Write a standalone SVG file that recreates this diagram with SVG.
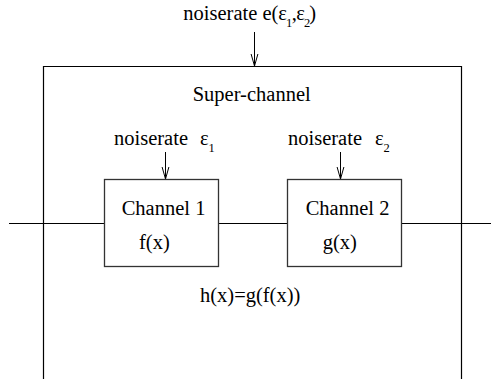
<svg xmlns="http://www.w3.org/2000/svg" width="491" height="379" viewBox="0 0 491 379">
<style>
text{font-family:"Liberation Serif","Times New Roman",serif;font-size:20.5px;fill:#000}
.sub{font-size:12.5px}
.ln{stroke:#000;stroke-width:1.2;fill:none}
.box{stroke:#333;stroke-width:1.3;fill:#fff}
.arr{stroke:#000;stroke-width:1;fill:none;marker-end:url(#ah)}
</style>
<defs>
<marker id="ah" markerUnits="userSpaceOnUse" markerWidth="14" markerHeight="10" refX="12" refY="4" orient="auto" viewBox="0 0 14 8">
<path d="M0,0.6 L12,4 L0,7.4" fill="none" stroke="#000" stroke-width="1"/>
</marker>
</defs>
<g id="connectors">
<path class="ln" d="M9,223.5 H104.5 M218.5,223.5 H287.5 M401.5,223.5 H491"/>
<path class="arr" d="M254.5,32 V66"/>
<path class="arr" d="M165.5,152 V179"/>
<path class="arr" d="M340.5,152 V179"/>
</g>
<g id="super-channel">
<path class="ln" d="M43.5,379 V66.5 H461.5 V379"/>
<text x="192.7" y="101">Super-channel</text>
<text x="200" y="302">h(x)=g(f(x))</text>
</g>
<g id="noise-top">
<text x="183.3" y="20">noiserate e(ε<tspan class="sub" dx="-1" dy="7">1</tspan><tspan dx="-0.5" dy="-7">,</tspan><tspan dx="-0.5">ε</tspan><tspan class="sub" dx="-1" dy="7">2</tspan><tspan dx="-1" dy="-7">)</tspan></text>
</g>
<g id="channel1">
<rect class="box" x="104.5" y="179.5" width="114" height="87"/>
<text x="121.7" y="215">Channel 1</text>
<text x="139" y="249">f(x)</text>
<text x="114" y="145">noiserate</text>
<text x="200" y="145">ε<tspan class="sub" dy="7">1</tspan></text>
</g>
<g id="channel2">
<rect class="box" x="287.5" y="179.5" width="114" height="87"/>
<text x="305.7" y="215">Channel 2</text>
<text x="322.7" y="249">g(x)</text>
<text x="288" y="145">noiserate</text>
<text x="375" y="145">ε<tspan class="sub" dy="7">2</tspan></text>
</g>
</svg>
